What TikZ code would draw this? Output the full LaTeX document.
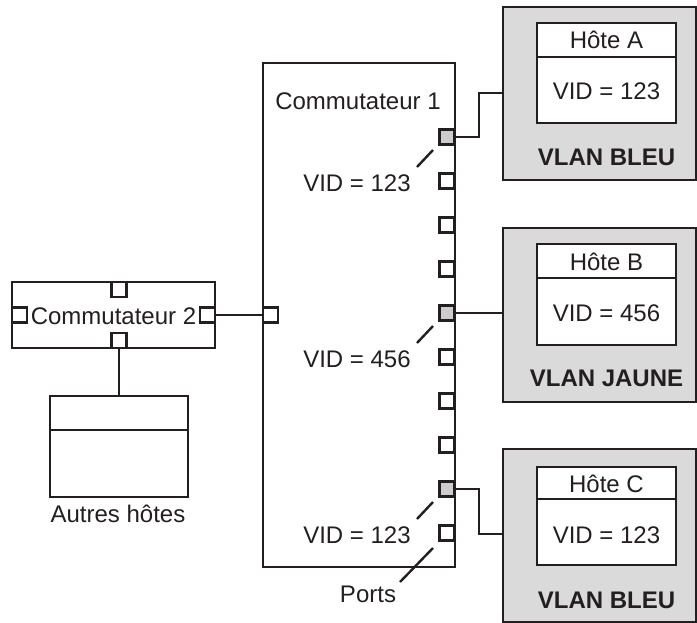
\documentclass[tikz,border=0pt]{standalone}
\usepackage{fontspec}
\setmainfont{Liberation Sans}
\definecolor{vlanfill}{RGB}{218,218,218}
\definecolor{portfill}{RGB}{205,205,205}
\definecolor{ink}{RGB}{35,31,32}
\begin{document}
\begin{tikzpicture}[x=1pt,y=-1pt,
  every node/.style={font=\fontsize{24}{28}\selectfont, text=ink},
  box/.style={draw=ink, line width=2.7pt, fill=white, inner sep=0pt},
  vlanbox/.style={draw=ink, line width=1.6pt, fill=vlanfill, inner sep=0pt},
  port/.style={draw=ink, line width=2.4pt, fill=white, minimum size=15pt, inner sep=0pt},
  portsh/.style={port, fill=portfill},
  wire/.style={draw=ink, line width=2.6pt},
  tick/.style={draw=ink, line width=2.4pt},
  divider/.style={draw=ink, line width=1.3pt},
  lbl/.style={inner sep=0pt},
  vlanlbl/.style={lbl, font=\fontsize{24}{28}\selectfont\bfseries}
]
\useasboundingbox (0,0) rectangle (697,623);

% Commutateur 1
\node[box, minimum width=192pt, minimum height=504pt] (c1) at (359,315) {};
\node[lbl] (c1t) at (358,101) {Commutateur 1};
\foreach \i/\y/\s in {1/137/portsh,2/181/port,3/225/port,4/269/port,5/313/portsh,6/357/port,7/401/port,8/445/port,9/489/portsh,10/533/port}{
  \node[\s] (p\i) at (447,\y) {};
}
\node[port] (pl) at (270.5,315) {};

% VID labels and ticks
\node[lbl] (v1) at (357,183) {VID = 123};
\node[lbl] (v2) at (357,359) {VID = 456};
\node[lbl] (v3) at (357,535) {VID = 123};
\coordinate (t1a) at (417,167); \coordinate (t1b) at (433,150);
\coordinate (t2a) at (417,343); \coordinate (t2b) at (433,326);
\coordinate (t3a) at (417,519); \coordinate (t3b) at (433,502);
\draw[tick] (t1a) -- (t1b);
\draw[tick] (t2a) -- (t2b);
\draw[tick] (t3a) -- (t3b);
\node[lbl] (ports) at (368,594) {Ports};
\coordinate (pa) at (400,582); \coordinate (pb) at (433,548);
\draw[tick] (pa) -- (pb);

% VLAN boxes
\node[vlanbox, minimum width=193pt, minimum height=173pt] (ga) at (599.5,93.5) {};
\node[box, line width=2.4pt, minimum width=139pt, minimum height=100pt] (ia) at (606.5,73) {};
\draw[divider] (ia.west |- 0,57) -- (ia.east |- 0,57);
\node[lbl] (ha) at (606.5,40) {Hôte A};
\node[lbl] (va) at (606.5,91) {VID = 123};
\node[vlanlbl] (la) at (606.5,157) {VLAN BLEU};

\node[vlanbox, minimum width=193pt, minimum height=174pt] (gb) at (599.5,315) {};
\node[box, line width=2.4pt, minimum width=139pt, minimum height=101pt] (ib) at (606.5,294.5) {};
\draw[divider] (ib.west |- 0,278) -- (ib.east |- 0,278);
\node[lbl] (hb) at (606.5,262) {Hôte B};
\node[lbl] (vb) at (606.5,313) {VID = 456};
\node[vlanlbl] (lb) at (606.5,378) {VLAN JAUNE};

\node[vlanbox, minimum width=193pt, minimum height=173pt] (gc) at (599.5,535.5) {};
\node[box, line width=2.4pt, minimum width=139pt, minimum height=98pt] (ic) at (606.5,516) {};
\draw[divider] (ic.west |- 0,499) -- (ic.east |- 0,499);
\node[lbl] (hc) at (606.5,484) {Hôte C};
\node[lbl] (vc) at (606.5,535) {VID = 123};
\node[vlanlbl] (lc) at (606.5,600) {VLAN BLEU};

% connections to hosts
\coordinate (ja) at (479,93);
\coordinate (jc) at (479,534);
\draw[wire] (p1.east) -| (ja) -- (ga.west |- ja);
\draw[wire] (p5.east) -- (gb.west |- p5);
\draw[wire] (p9.east) -| (jc) -- (gc.west |- jc);

% Commutateur 2
\node[box, minimum width=203pt, minimum height=66pt] (c2) at (113.5,315) {};
\node[port] (c2t) at (119,289.5) {};
\node[port] (c2b) at (119,340.5) {};
\node[port] (c2l) at (19.5,315) {};
\node[port] (c2r) at (207.5,315) {};
\node[lbl] (c2txt) at (113.5,316) {Commutateur 2};
\draw[wire] (c2r.east) -- (pl.west);

% Autres hotes
\node[box, minimum width=138pt, minimum height=101pt] (oh) at (119,446.5) {};
\draw[divider] (oh.west |- 0,430) -- (oh.east |- 0,430);
\draw[wire] (c2b.south) -- (oh.north);
\node[lbl] (ohl) at (118,514) {Autres hôtes};
\end{tikzpicture}
\end{document}
